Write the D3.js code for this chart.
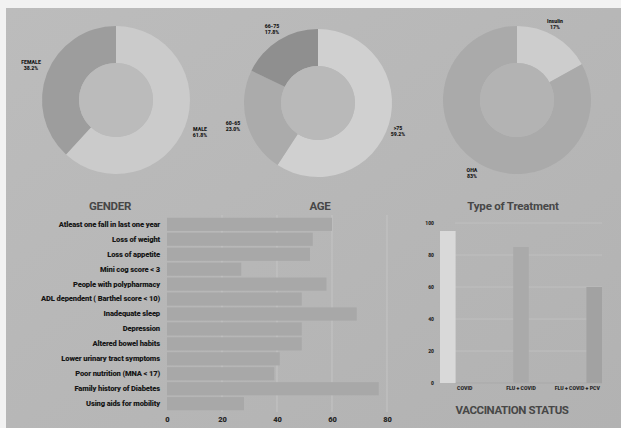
<!DOCTYPE html>
<html>
<head>
<meta charset="utf-8">
<script src="https://cdn.jsdelivr.net/npm/d3@7"></script>
<style>
  html, body { margin: 0; padding: 0; background: #f4f4f4; }
  svg { display: block; }
  text { font-family: Roboto, "Liberation Sans", sans-serif; }
</style>
</head>
<body>
<svg id="chart" width="621" height="428"></svg>
<script>
// ---- data ----
const genderLabels = ["MALE", "FEMALE"];
const genderValues = [61.8, 38.2];

const ageLabels = [">75", "60-65", "66-75"];
const ageValues = [59.2, 23.0, 17.8];

const treatmentLabels = ["Insulin", "OHA"];
const treatmentValues = [17, 83];

const conditionLabels = [
  "Atleast one fall in last one year",
  "Loss of weight",
  "Loss of appetite",
  "Mini cog score < 3",
  "People with polypharmacy",
  "ADL dependent ( Barthel score < 10)",
  "Inadequate sleep",
  "Depression",
  "Altered bowel habits",
  "Lower urinary tract symptoms",
  "Poor nutrition (MNA < 17)",
  "Family history of Diabetes",
  "Using aids for mobility"
];
const conditionValues = [60, 53, 52, 27, 58, 49, 69, 49, 49, 41, 39, 77, 28];
const conditionTicks = [0, 20, 40, 60, 80];

const vaccineLabels = ["COVID", "FLU + COVID", "FLU + COVID + PCV"];
const vaccineValues = [95, 85, 60];
const vaccineTicks = [0, 20, 40, 60, 80, 100];

// ---- canvas ----
const svg = d3.select("#chart");
const W = 621, H = 428;

const defs = svg.append("defs");
const bg = defs.append("linearGradient").attr("id", "bg")
  .attr("x1", "0").attr("y1", "0").attr("x2", "1").attr("y2", "1");
bg.append("stop").attr("offset", "0%").attr("stop-color", "#bcbcbc");
bg.append("stop").attr("offset", "100%").attr("stop-color", "#b2b2b2");

svg.append("rect").attr("width", W).attr("height", H).attr("fill", "#f2f2f2");
svg.append("rect").attr("x", 6).attr("y", 8).attr("width", W - 6).attr("height", H - 8)
  .attr("fill", "url(#bg)");

// ---- donut helper ----
function donut(cx, cy, labels, values, colors, holeColor, labelPos, fmt) {
  const g = svg.append("g").attr("transform", `translate(${cx},${cy})`);
  const pie = d3.pie().sort(null).value(d => d)(values);
  const arc = d3.arc().innerRadius(37).outerRadius(74);
  g.selectAll("path.slice").data(pie).join("path")
    .attr("class", "slice")
    .attr("d", arc)
    .attr("fill", (d, i) => colors[i]);
  g.append("circle").attr("r", 37).attr("fill", holeColor);

  labels.forEach((lab, i) => {
    const t = g.append("text")
      .attr("y", labelPos[i][1])
      .attr("text-anchor", "middle")
      .attr("font-size", 5.2).attr("font-weight", 900).attr("fill", "#161616");
    t.append("tspan").attr("x", labelPos[i][0]).text(lab);
    t.append("tspan").attr("x", labelPos[i][0]).attr("dy", 6)
      .text(fmt(values[i]) + "%");
  });
  return g;
}

function title(x, y, txt, spacing) {
  svg.append("text")
    .attr("x", x).attr("y", y)
    .attr("text-anchor", "middle")
    .attr("font-size", 11.5)
    .attr("font-weight", 700)
    .attr("letter-spacing", spacing)
    .attr("fill", "#474747")
    .text(txt);
}

donut(116, 100, genderLabels, genderValues, ["#cbcbcb", "#9d9d9d"], "#bbbbbb",
  [[84, 31], [-85, -36]], d3.format(".1f"));
title(110, 210, "GENDER", -0.3);

donut(318, 103, ageLabels, ageValues, ["#d0d0d0", "#ababab", "#8f8f8f"], "#b9b9b9",
  [[80, 27], [-85, 22], [-46, -75]], d3.format(".1f"));
title(320, 210, "AGE", -0.3);

donut(517, 100, treatmentLabels, treatmentValues, ["#cdcdcd", "#aaaaaa"], "#b3b3b3",
  [[38, -77], [-45, 72]], d3.format("d"));
title(513, 210, "Type of Treatment", -0.2);

// ---- horizontal bar chart ----
const hx = d3.scaleLinear().domain([0, 80]).range([167, 387]);
const hy = d3.scaleBand().domain(conditionLabels).range([217, 411]).paddingInner(0.12).paddingOuter(0.05);

const hg = svg.append("g");
hg.selectAll("line.grid").data(conditionTicks.slice(1)).join("line")
  .attr("class", "grid")
  .attr("x1", d => hx(d)).attr("x2", d => hx(d))
  .attr("y1", 215).attr("y2", 412)
  .attr("stroke", "#c4c4c4").attr("stroke-width", 1);

hg.selectAll("rect.bar").data(conditionValues).join("rect")
  .attr("class", "bar")
  .attr("x", hx(0))
  .attr("y", (d, i) => hy(conditionLabels[i]))
  .attr("width", d => hx(d) - hx(0))
  .attr("height", hy.bandwidth())
  .attr("fill", "#a8a8a8");

const hAxisY = d3.axisLeft(hy).tickSize(0).tickPadding(7);
const gy = svg.append("g").attr("transform", `translate(${hx(0)},0)`).call(hAxisY);
gy.select(".domain").remove();
gy.selectAll("text").attr("font-size", 7.6).attr("font-weight", 900)
  .attr("fill", "#161616").attr("font-family", "Roboto, sans-serif")
  .attr("letter-spacing", -0.15);

const hAxisX = d3.axisBottom(hx).tickValues(conditionTicks).tickSize(0).tickPadding(0);
const gx = svg.append("g").attr("transform", `translate(0,417)`).call(hAxisX);
gx.select(".domain").remove();
gx.selectAll("text").attr("font-size", 7.5).attr("font-weight", 900)
  .attr("fill", "#262626").attr("font-family", "Roboto, sans-serif");

// ---- vaccination grouped bars ----
const vx0 = d3.scaleBand().domain(vaccineLabels).range([440, 602]).paddingInner(0.12);
const vx1 = d3.scaleBand().domain(vaccineLabels).range([0, vx0.bandwidth()]).paddingInner(0.08);
const vy = d3.scaleLinear().domain([0, 100]).range([383, 223]);
const vColors = ["#d9d9d9", "#aaaaaa", "#a2a2a2"];

const vg = svg.append("g");
vg.selectAll("line.grid").data(vaccineTicks).join("line")
  .attr("class", "grid")
  .attr("x1", 455).attr("x2", 602)
  .attr("y1", d => vy(d)).attr("y2", d => vy(d))
  .attr("stroke", d => d === 0 ? "#a9a9a9" : "#bfbfbf").attr("stroke-width", 1);

vg.selectAll("rect.vbar").data(vaccineValues).join("rect")
  .attr("class", "vbar")
  .attr("x", (d, i) => vx0(vaccineLabels[i]) + vx1(vaccineLabels[i]))
  .attr("y", d => vy(d))
  .attr("width", vx1.bandwidth())
  .attr("height", d => vy(0) - vy(d))
  .attr("fill", (d, i) => vColors[i]);

const vAxisY = d3.axisLeft(vy).tickValues(vaccineTicks).tickSize(0).tickPadding(0);
const gvy = svg.append("g").attr("transform", "translate(434,0)").call(vAxisY);
gvy.select(".domain").remove();
gvy.selectAll("text").attr("font-size", 5).attr("font-weight", 900).attr("fill", "#262626");

const vAxisX = d3.axisBottom(vx0).tickSize(0).tickPadding(0);
const gvx = svg.append("g").attr("transform", "translate(0,386)").call(vAxisX);
gvx.select(".domain").remove();
gvx.selectAll("text").attr("font-size", 5.2).attr("font-weight", 900).attr("fill", "#262626");

title(512, 414, "VACCINATION STATUS", -0.4);
</script>
</body>
</html>
